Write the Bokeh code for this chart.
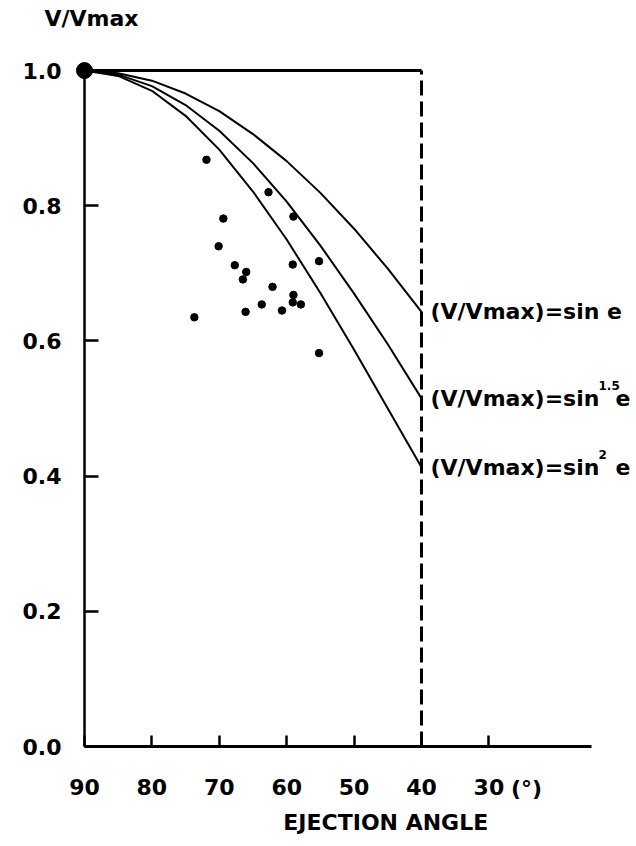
from bokeh.plotting import figure
from bokeh.models import Range1d, FixedTicker, Label, ColumnDataSource
from bokeh.embed import file_html
from bokeh.resources import INLINE

# ---- data ----
curve_angle = [90, 85, 80, 75, 70, 65, 60, 55, 50, 45, 40]
v_sin = [1.000, 0.996, 0.985, 0.966, 0.940, 0.906, 0.866, 0.819, 0.766, 0.707, 0.643]
v_sin15 = [1.000, 0.994, 0.977, 0.949, 0.911, 0.863, 0.806, 0.741, 0.670, 0.595, 0.515]
v_sin2 = [1.000, 0.992, 0.970, 0.933, 0.883, 0.821, 0.750, 0.671, 0.587, 0.500, 0.413]

obs_angle = [71.9, 62.7, 69.4, 59.0, 70.1, 67.7, 59.1, 55.2, 66.0, 66.5,
             62.1, 59.0, 63.7, 59.1, 57.9, 66.1, 60.7, 73.7, 55.2]
obs_v = [0.868, 0.820, 0.781, 0.784, 0.740, 0.712, 0.713, 0.718, 0.702, 0.691,
         0.680, 0.668, 0.654, 0.657, 0.654, 0.643, 0.645, 0.635, 0.582]

ref_angle = [90, 40]
ref_v = [1.0, 1.0]
cut_angle = [40, 40]
cut_v = [0.0, 1.0]
origin_angle = [90]
origin_v = [1.0]

x_ticks = [90, 80, 70, 60, 50, 40, 30]
x_tick_labels = {90: "90", 80: "80", 70: "70", 60: "60", 50: "50", 40: "40", 30: "30"}
y_ticks = [0.0, 0.2, 0.4, 0.6, 0.8, 1.0]
y_tick_labels = {0.0: "0.0", 0.2: "0.2", 0.4: "0.4", 0.6: "0.6", 0.8: "0.8", 1.0: "1.0"}

curve_labels = ["(V/Vmax)=sin e", "(V/Vmax)=sin", "(V/Vmax)=sin"]
curve_sup = ["", "1.5", "2"]
curve_e = ["", "e", "e"]

FONT = "DejaVu Sans"
FS = "22px"

p = figure(width=636, height=840, output_backend="svg", toolbar_location=None,
           x_range=Range1d(102.46, 8.1), y_range=Range1d(-0.139, 1.1036),
           min_border_left=0, min_border_right=0, min_border_top=0,
           min_border_bottom=0)
p.outline_line_color = None
p.grid.visible = False
p.background_fill_color = "white"
p.border_fill_color = "white"

# x axis (drawn at y = 0 inside the frame)
xa = p.xaxis[0]
xa.fixed_location = 0
xa.ticker = FixedTicker(ticks=x_ticks)
xa.major_label_overrides = x_tick_labels
xa.bounds = (14.8, 90)
xa.axis_line_width = 3
xa.axis_line_color = "black"
xa.major_tick_in = 11
xa.major_tick_out = 0
xa.major_tick_line_width = 2.5
xa.minor_tick_line_color = None
xa.major_label_standoff = 32
xa.major_label_text_font = FONT
xa.major_label_text_font_style = "bold"
xa.major_label_text_font_size = FS
xa.major_label_text_color = "black"

# y axis (drawn at angle = 90 inside the frame)
ya = p.yaxis[0]
ya.fixed_location = 90
ya.ticker = FixedTicker(ticks=y_ticks)
ya.major_label_overrides = y_tick_labels
ya.bounds = (0, 1.0)
ya.axis_line_width = 2.5
ya.axis_line_color = "black"
ya.major_tick_in = 14
ya.major_tick_out = 0
ya.major_tick_line_width = 2.5
ya.minor_tick_line_color = None
ya.major_label_standoff = 23
ya.major_label_text_font = FONT
ya.major_label_text_font_style = "bold"
ya.major_label_text_font_size = FS
ya.major_label_text_color = "black"

# reference line and dashed cut-off
p.line(ref_angle, ref_v, line_color="black", line_width=3)
p.line(cut_angle, cut_v, line_color="black", line_width=3, line_dash="15 6")

# theoretical curves
for vals in (v_sin, v_sin15, v_sin2):
    p.line(curve_angle, vals, line_color="black", line_width=2)

# observations
p.scatter(obs_angle, obs_v, size=7.5, color="black")
p.scatter(origin_angle, origin_v, size=16, color="black")

# curve labels
ends = [v_sin[-1], v_sin15[-1], v_sin2[-1]]
src = ColumnDataSource(dict(x=[curve_angle[-1]] * 3, y=ends, t=curve_labels,
                            s=curve_sup, e=curve_e))
p.text(x="x", y="y", text="t", source=src, x_offset=9, text_baseline="middle",
       text_font={"value": FONT}, text_font_style="bold", text_font_size=FS,
       text_color="black")
p.text(x="x", y="y", text="s", source=src, x_offset=177, y_offset=-13,
       text_baseline="middle", text_font={"value": FONT}, text_font_style="bold",
       text_font_size="12px", text_color="black")
p.text(x="x", y="y", text="e", source=src, x_offset=194, text_baseline="middle",
       text_font={"value": FONT}, text_font_style="bold", text_font_size=FS,
       text_color="black")

# titles / extra axis text
p.add_layout(Label(x=90, y=1.0, x_offset=-40, y_offset=52, text="V/Vmax",
                   text_baseline="middle", text_font=FONT, text_font_style="bold",
                   text_font_size=FS, text_color="black"))
p.add_layout(Label(x=30, y=0, x_offset=22, y_offset=-42, text="(°)",
                   text_baseline="middle", text_font=FONT, text_font_style="bold",
                   text_font_size=FS, text_color="black"))
p.add_layout(Label(x=45.3, y=0, y_offset=-76, text="EJECTION ANGLE",
                   text_align="center", text_baseline="middle", text_font=FONT,
                   text_font_style="bold", text_font_size=FS, text_color="black"))

open("out.html", "w").write(file_html(p, INLINE))
